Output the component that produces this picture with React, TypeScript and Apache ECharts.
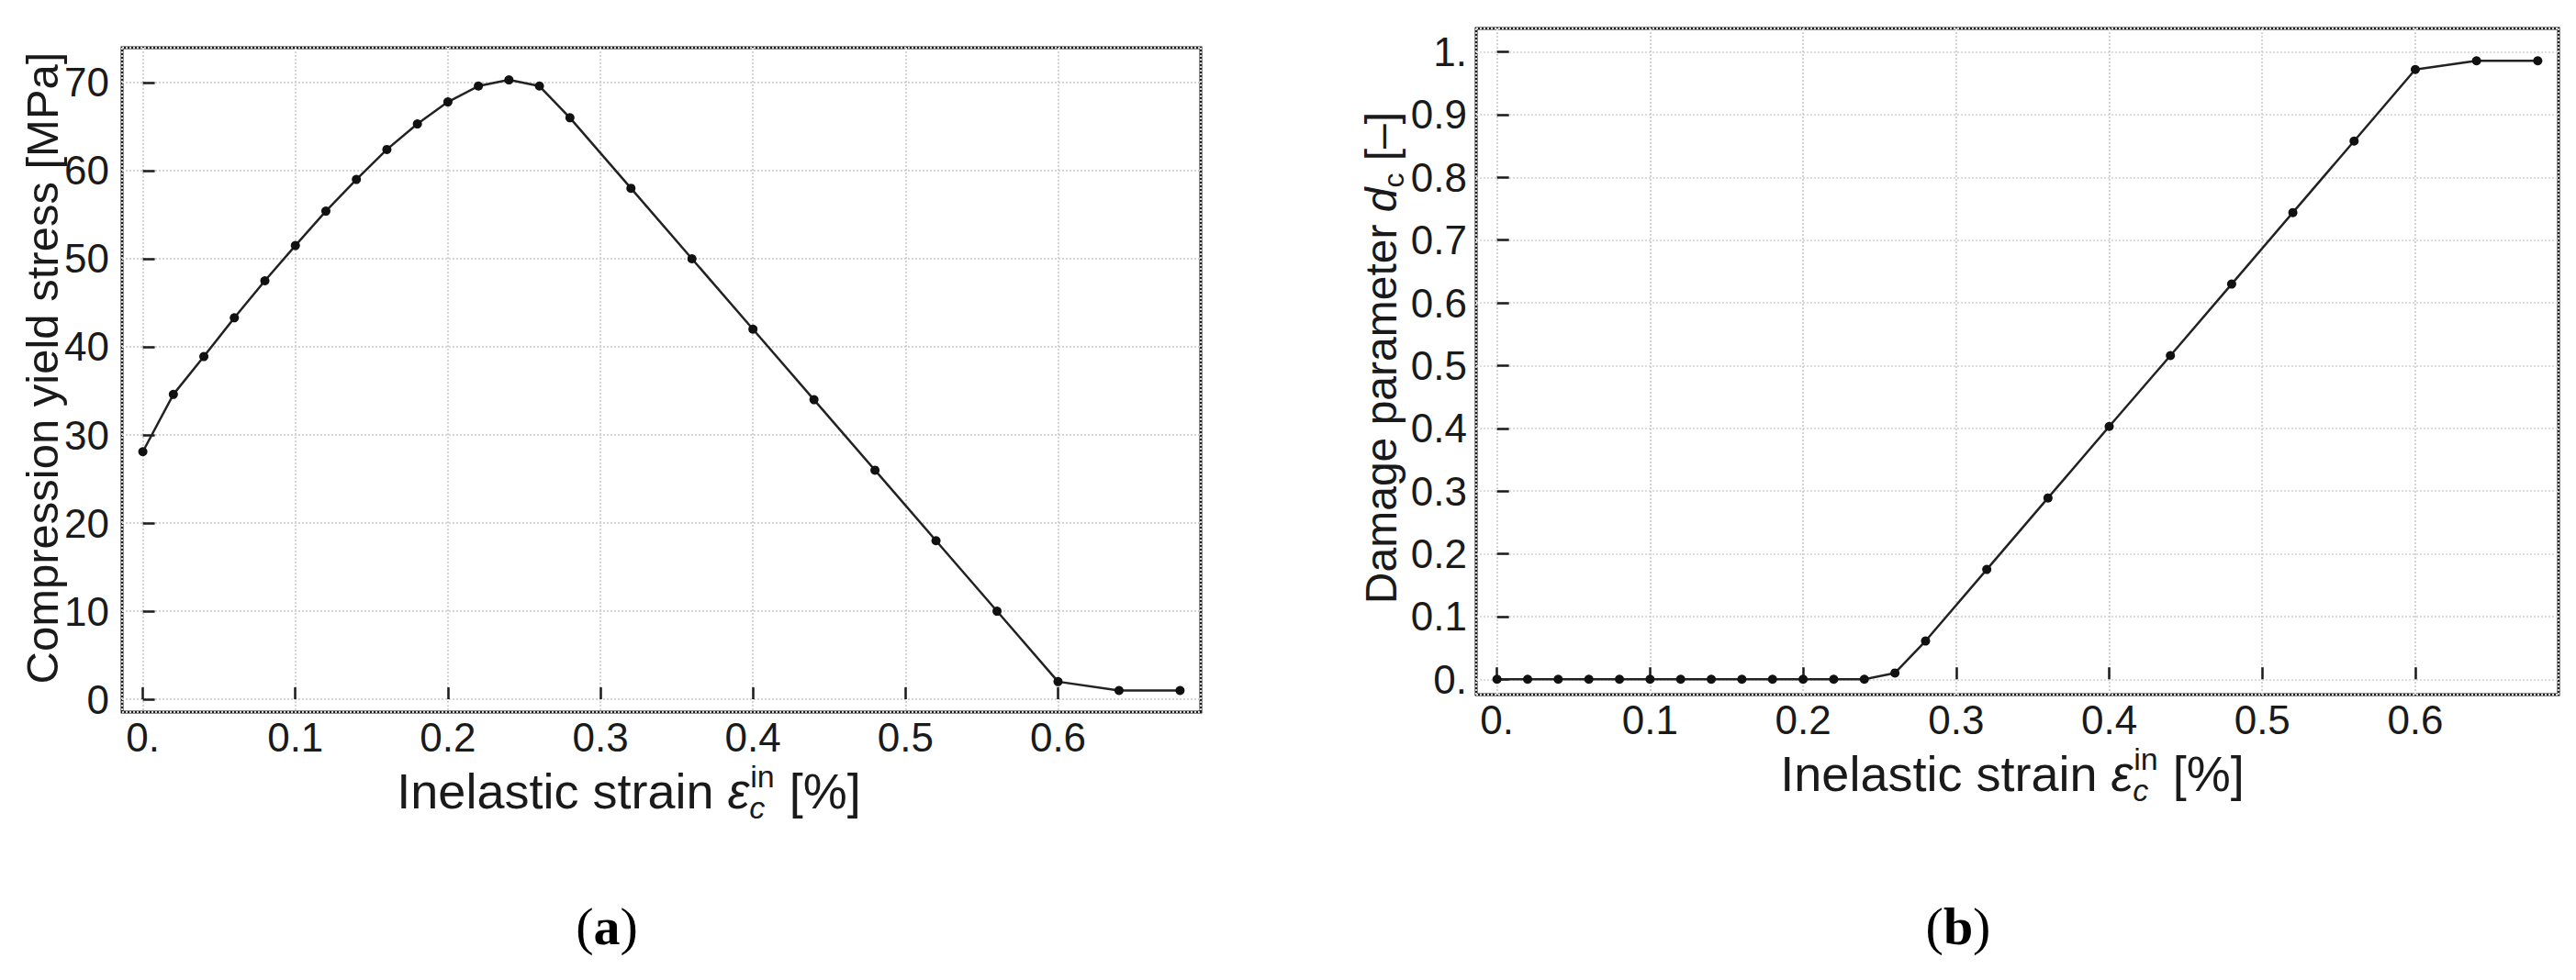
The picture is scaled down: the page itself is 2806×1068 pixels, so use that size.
import React, { useEffect, useRef } from 'react';
import * as echarts from 'echarts';

// ---- data ----
const strain = [0, 0.02, 0.04, 0.06, 0.08, 0.1, 0.12, 0.14, 0.16, 0.18, 0.2, 0.22, 0.24, 0.26, 0.28, 0.32, 0.36, 0.4, 0.44, 0.48, 0.52, 0.56, 0.6, 0.64, 0.68];
const stress = [28.1, 34.6, 38.9, 43.3, 47.5, 51.5, 55.4, 59.0, 62.4, 65.3, 67.8, 69.6, 70.3, 69.6, 66.0, 58.0, 50.0, 42.0, 34.0, 26.0, 18.0, 10.0, 2.0, 1.0, 1.0];
const damage = [0, 0, 0, 0, 0, 0, 0, 0, 0, 0, 0, 0, 0, 0.01, 0.061, 0.175, 0.289, 0.403, 0.516, 0.63, 0.744, 0.858, 0.972, 0.986, 0.986];
const xTitle = ['Inelastic strain ', 'ε', 'c', 'in', ' [%]'];
const yTitleA = 'Compression yield stress [MPa]';
const yTitleB = ['Damage parameter ', 'd', 'c', ' [–]'];
const captions = ['a', 'b'];

const W = 2806;
const H = 1068;
const SANS = '"Liberation Sans", Arial, Helvetica, sans-serif';
const SERIF = '"Liberation Serif", "Times New Roman", serif';
const INK = '#1a1a1a';

function measure(text: string, font: string): number {
  const c = document.createElement('canvas').getContext('2d')!;
  c.font = font;
  return c.measureText(text).width;
}

function fmtTenth(v: number, oneLabel: string) {
  const r = Math.round(v * 10);
  if (Math.abs(v * 10 - r) > 1e-6) return '';
  if (r === 0) return '0.';
  if (r === 10) return oneLabel;
  return (r / 10).toFixed(1);
}

function txt(text: string, px: number, py: number, size: number, italic: boolean) {
  return {
    type: 'text',
    x: px,
    y: py,
    style: {
      text,
      font: `${italic ? 'italic ' : ''}${size}px ${SANS}`,
      fill: INK,
      textAlign: 'left',
      textVerticalAlign: 'middle',
    },
  };
}

function xTitleGroup(cx: number, cy: number) {
  const fs = 54;
  const sfs = 34;
  const w0 = measure(xTitle[0], `${fs}px ${SANS}`);
  const w1 = measure(xTitle[1], `italic ${fs}px ${SANS}`);
  const w2 = Math.max(measure(xTitle[2], `italic ${sfs}px ${SANS}`), measure(xTitle[3], `${sfs}px ${SANS}`));
  const w4 = measure(xTitle[4], `${fs}px ${SANS}`);
  const total = w0 + w1 + w2 + 2 + w4;
  const x = -total / 2;
  const children = [
    txt(xTitle[0], x, 0, fs, false),
    txt(xTitle[1], x + w0, 0, fs, true),
    txt(xTitle[2], x + w0 + w1, 18, sfs, true),
    txt(xTitle[3], x + w0 + w1 + 1, -16, sfs, false),
    txt(xTitle[4], x + w0 + w1 + w2 + 2, 0, fs, false),
  ];
  return { type: 'group', x: cx, y: cy, children };
}

function yTitleGroupB(cx: number, cy: number) {
  const fs = 48;
  const sfs = 32;
  const w0 = measure(yTitleB[0], `${fs}px ${SANS}`);
  const w1 = measure(yTitleB[1], `italic ${fs}px ${SANS}`);
  const w2 = measure(yTitleB[2], `${sfs}px ${SANS}`);
  const w3 = measure(yTitleB[3], `${fs}px ${SANS}`);
  const total = w0 + w1 + w2 + w3;
  const x = -total / 2;
  return {
    type: 'group',
    x: cx,
    y: cy,
    rotation: Math.PI / 2,
    children: [
      txt(yTitleB[0], x, 0, fs, false),
      txt(yTitleB[1], x + w0, 0, fs, true),
      txt(yTitleB[2], x + w0 + w1, 14, sfs, false),
      txt(yTitleB[3], x + w0 + w1 + w2, 0, fs, false),
    ],
  };
}

const gridA = { left: 133, top: 52, width: 1175, height: 724 };
const gridB = { left: 1608, top: 31, width: 1179, height: 726 };

const tickStyle = { show: true, inside: true, length: 13, lineStyle: { color: INK, width: 2.5 } };

function makeXAxis(gridIndex: number) {
  return {
    type: 'value',
    gridIndex,
    min: -0.0136,
    max: 0.6936,
    splitNumber: 7,
    axisLine: { show: false },
    axisTick: tickStyle,
    axisLabel: {
      margin: 5,
      fontSize: 44,
      fontFamily: SANS,
      color: INK,
      showMinLabel: false,
      showMaxLabel: false,
      formatter: (v: number) => fmtTenth(v, '1.'),
    },
    splitLine: { show: true, lineStyle: { color: '#d4d4d4', width: 2, type: 'dotted' } },
  };
}

export default function App() {
  const ref = useRef<HTMLDivElement>(null);
  useEffect(() => {
    document.body.style.margin = '0';
    const chart = echarts.init(ref.current!, undefined, { renderer: 'svg' });
    const ptsA = strain.map((x, i) => [x, stress[i]]);
    const ptsB = strain.map((x, i) => [x, damage[i]]);
    const gridStyle = { show: true, borderColor: INK, borderWidth: 3, backgroundColor: '#fff', containLabel: false };
    const captionText = (c: string, x: number) => ({
      type: 'text',
      x,
      y: 1009,
      style: {
        text: `({b|${c}})`,
        font: `58px ${SERIF}`,
        fill: '#000',
        textAlign: 'center',
        textVerticalAlign: 'middle',
        rich: { b: { fontWeight: 'bold', fontSize: 58, fontFamily: SERIF } },
      },
    });
    chart.setOption({
      animation: false,
      backgroundColor: '#fff',
      grid: [
        { ...gridA, ...gridStyle },
        { ...gridB, ...gridStyle },
      ],
      xAxis: [makeXAxis(0), makeXAxis(1)],
      yAxis: [
        {
          type: 'value',
          gridIndex: 0,
          min: -1.45,
          max: 73.95,
          splitNumber: 7,
          axisLine: { show: false },
          axisTick: tickStyle,
          axisLabel: {
            margin: 14,
            fontSize: 44,
            fontFamily: SANS,
            color: INK,
            showMinLabel: false,
            showMaxLabel: false,
            formatter: (v: number) => (Math.abs(v / 10 - Math.round(v / 10)) < 1e-6 ? String(Math.round(v)) : ''),
          },
          splitLine: { show: true, lineStyle: { color: '#d4d4d4', width: 2, type: 'dotted' } },
        },
        {
          type: 'value',
          gridIndex: 1,
          min: -0.0245,
          max: 1.0375,
          splitNumber: 10,
          axisLine: { show: false },
          axisTick: tickStyle,
          axisLabel: {
            margin: 10,
            fontSize: 44,
            fontFamily: SANS,
            color: INK,
            showMinLabel: false,
            showMaxLabel: false,
            formatter: (v: number) => fmtTenth(v, '1.'),
          },
          splitLine: { show: true, lineStyle: { color: '#dcdcdc', width: 2, type: 'dotted' } },
        },
      ],
      series: [
        {
          type: 'line',
          xAxisIndex: 0,
          yAxisIndex: 0,
          data: ptsA,
          symbol: 'circle',
          symbolSize: 10,
          itemStyle: { color: '#111' },
          lineStyle: { color: '#222', width: 2.5 },
          z: 5,
        },
        {
          type: 'line',
          xAxisIndex: 1,
          yAxisIndex: 1,
          data: ptsB,
          symbol: 'circle',
          symbolSize: 10,
          itemStyle: { color: '#111' },
          lineStyle: { color: '#222', width: 2.5 },
          z: 5,
        },
      ],
      graphic: [
        {
          type: 'text',
          x: 46,
          y: 401,
          rotation: Math.PI / 2,
          style: {
            text: yTitleA,
            font: `49px ${SANS}`,
            fill: INK,
            textAlign: 'center',
            textVerticalAlign: 'middle',
          },
        },
        yTitleGroupB(1504, 390),
        xTitleGroup(685, 862),
        xTitleGroup(2192, 843),
        captionText(captions[0], 661),
        captionText(captions[1], 2133),
      ],
    });
    return () => chart.dispose();
  }, []);
  return <div ref={ref} style={{ width: W, height: H }} />;
}
